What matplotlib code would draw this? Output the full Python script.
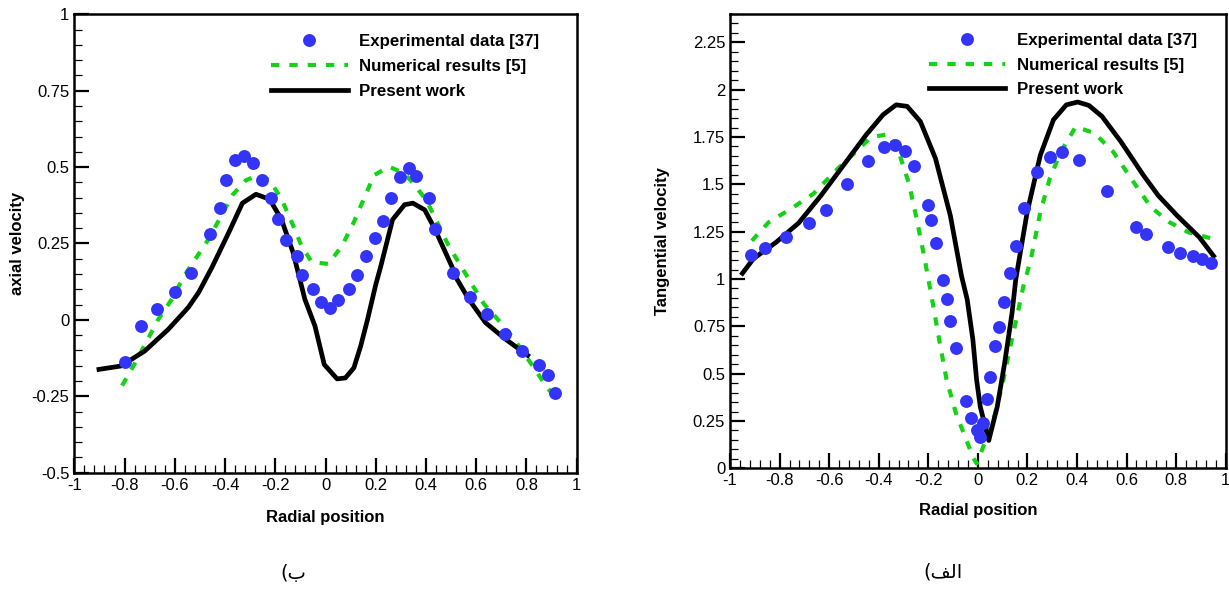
import matplotlib
matplotlib.use("Agg")
import matplotlib.pyplot as plt
from matplotlib.lines import Line2D
from matplotlib.ticker import MultipleLocator

plt.rcParams['font.family'] = ['Liberation Sans', 'DejaVu Sans']
plt.rcParams['axes.unicode_minus'] = False

# ---------------- data: left panel (axial velocity) ----------------
ax_exp_x = [-0.80, -0.734, -0.669, -0.60, -0.535, -0.46, -0.422, -0.395, -0.36, -0.324,
            -0.288, -0.254, -0.216, -0.19, -0.158, -0.112, -0.092, -0.048, -0.017, 0.019,
            0.048, 0.093, 0.126, 0.163, 0.196, 0.227, 0.261, 0.297, 0.332, 0.362,
            0.413, 0.435, 0.507, 0.577, 0.644, 0.715, 0.782, 0.852, 0.886, 0.915]
ax_exp_y = [-0.137, -0.02, 0.035, 0.09, 0.154, 0.28, 0.367, 0.457, 0.523, 0.537,
            0.512, 0.457, 0.40, 0.331, 0.262, 0.209, 0.147, 0.10, 0.059, 0.04,
            0.066, 0.10, 0.147, 0.209, 0.268, 0.322, 0.40, 0.468, 0.496, 0.47,
            0.40, 0.298, 0.154, 0.074, 0.019, -0.047, -0.102, -0.146, -0.181, -0.239]

ax_num_x = [-0.81, -0.754, -0.667, -0.606, -0.566, -0.465, -0.371, -0.317, -0.263, -0.223,
            -0.176, -0.129, -0.096, -0.055, 0.012, 0.066, 0.113, 0.153, 0.194, 0.254,
            0.315, 0.355, 0.402, 0.49, 0.59, 0.631, 0.691, 0.751, 0.825, 0.879, 0.93]
ax_num_y = [-0.215, -0.135, 0.0, 0.075, 0.14, 0.265, 0.408, 0.457, 0.474, 0.457,
            0.397, 0.309, 0.243, 0.189, 0.183, 0.243, 0.32, 0.397, 0.474, 0.501,
            0.479, 0.441, 0.391, 0.243, 0.107, 0.052, -0.003, -0.063, -0.151, -0.217, -0.27]

ax_pres_x = [-0.902, -0.815, -0.72, -0.626, -0.546, -0.505, -0.452, -0.384, -0.331, -0.277,
             -0.223, -0.176, -0.129, -0.082, -0.042, -0.005, 0.046, 0.079, 0.113, 0.14,
             0.167, 0.2, 0.22, 0.267, 0.315, 0.348, 0.395, 0.435, 0.503, 0.523,
             0.57, 0.637, 0.718, 0.805]
ax_pres_y = [-0.162, -0.151, -0.102, -0.031, 0.041, 0.09, 0.172, 0.288, 0.382, 0.411,
             0.395, 0.33, 0.22, 0.067, -0.02, -0.146, -0.193, -0.19, -0.157, -0.086,
             0.0, 0.115, 0.175, 0.328, 0.377, 0.382, 0.36, 0.298, 0.175, 0.134,
             0.068, -0.009, -0.064, -0.116]

# ---------------- data: right panel (tangential velocity) ----------------
tg_exp_x = [-0.915, -0.859, -0.773, -0.683, -0.613, -0.528, -0.444, -0.379, -0.336, -0.294,
            -0.259, -0.203, -0.19, -0.167, -0.14, -0.123, -0.112, -0.088, -0.046, -0.028,
            -0.005, 0.01, 0.02, 0.037, 0.051, 0.07, 0.085, 0.105, 0.128, 0.153,
            0.187, 0.24, 0.29, 0.338, 0.407, 0.522, 0.64, 0.678, 0.769, 0.817,
            0.867, 0.905, 0.942]
tg_exp_y = [1.126, 1.162, 1.22, 1.295, 1.365, 1.50, 1.626, 1.699, 1.707, 1.676,
            1.596, 1.392, 1.312, 1.19, 0.993, 0.896, 0.777, 0.635, 0.357, 0.268,
            0.20, 0.165, 0.239, 0.365, 0.484, 0.644, 0.745, 0.88, 1.03, 1.172,
            1.374, 1.564, 1.646, 1.669, 1.628, 1.463, 1.277, 1.238, 1.17, 1.14,
            1.119, 1.105, 1.087]

tg_num_x = [-0.912, -0.844, -0.754, -0.663, -0.572, -0.43, -0.36, -0.315, -0.278, -0.247,
            -0.217, -0.187, -0.156, -0.126, -0.088, -0.051, -0.02, -0.005, 0.015, 0.07,
            0.1, 0.131, 0.161, 0.184, 0.214, 0.252, 0.29, 0.335, 0.395, 0.471,
            0.546, 0.637, 0.698, 0.773, 0.849, 0.94]
tg_num_y = [1.202, 1.30, 1.371, 1.451, 1.574, 1.75, 1.765, 1.654, 1.504, 1.318,
            1.122, 0.91, 0.679, 0.467, 0.289, 0.165, 0.06, 0.025, 0.09, 0.289,
            0.449, 0.644, 0.821, 0.963, 1.105, 1.353, 1.53, 1.672, 1.805, 1.77,
            1.672, 1.495, 1.38, 1.30, 1.247, 1.215]

tg_pres_x = [-0.95, -0.905, -0.814, -0.723, -0.633, -0.542, -0.451, -0.383, -0.33, -0.285,
             -0.232, -0.171, -0.111, -0.066, -0.043, -0.02, -0.005, 0.01, 0.044, 0.078,
             0.108, 0.138, 0.153, 0.199, 0.252, 0.305, 0.357, 0.403, 0.448, 0.501,
             0.577, 0.668, 0.728, 0.804, 0.894, 0.951]
tg_pres_y = [1.03, 1.108, 1.194, 1.296, 1.441, 1.601, 1.761, 1.867, 1.92, 1.912,
             1.832, 1.637, 1.335, 1.016, 0.892, 0.679, 0.467, 0.324, 0.147, 0.324,
             0.555, 0.821, 0.998, 1.353, 1.654, 1.841, 1.92, 1.935, 1.917, 1.859,
             1.726, 1.548, 1.441, 1.335, 1.22, 1.122]

# ---------------- ticks / labels ----------------
x_ticks = [-1, -0.8, -0.6, -0.4, -0.2, 0, 0.2, 0.4, 0.6, 0.8, 1]
x_tick_labels = ['-1', '-0.8', '-0.6', '-0.4', '-0.2', '0', '0.2', '0.4', '0.6', '0.8', '1']
ax_y_ticks = [-0.5, -0.25, 0, 0.25, 0.5, 0.75, 1]
ax_y_tick_labels = ['-0.5', '-0.25', '0', '0.25', '0.5', '0.75', '1']
tg_y_ticks = [0, 0.25, 0.5, 0.75, 1, 1.25, 1.5, 1.75, 2, 2.25]
tg_y_tick_labels = ['0', '0.25', '0.5', '0.75', '1', '1.25', '1.5', '1.75', '2', '2.25']

series_labels = ['Experimental data [37]', 'Numerical results [5]', 'Present work']
x_label = 'Radial position'
ax_y_label = 'axial velocity'
tg_y_label = 'Tangential velocity'
caption_left = '(\u0628'                      # visual form of "ب)"
caption_right = '(\uFED2\uFEDF\uFE8D'         # visual form of "الف)"

BLUE = '#3434F8'
GREEN = '#14D214'
LW_NUM = 3.0
LW_PRES = 3.4
DASH = (2.0, 2.4)
MS = 9.3

fig = plt.figure(figsize=(12.29, 5.93), dpi=100)
axL = fig.add_axes([0.0605, 0.2029, 0.4087, 0.7730])
axR = fig.add_axes([0.5940, 0.2103, 0.4033, 0.7661])


def style(ax, xlim, ylim, yt, ytl, ylabel, ylab_x, xlab_y):
    ax.set_xlim(*xlim)
    ax.set_ylim(*ylim)
    ax.set_xticks(x_ticks, labels=x_tick_labels)
    ax.set_yticks(yt, labels=ytl)
    ax.xaxis.set_minor_locator(MultipleLocator(0.04))
    ax.yaxis.set_minor_locator(MultipleLocator(0.05))
    ax.tick_params(which='major', direction='in', length=11, width=1.6,
                   labelsize=12, pad=3.5, top=False, right=False)
    ax.tick_params(which='minor', direction='in', length=6, width=0.9,
                   top=False, right=False)
    for s in ax.spines.values():
        s.set_linewidth(1.8)
    ax.set_xlabel(x_label, fontsize=12, fontweight='bold')
    ax.set_ylabel(ylabel, fontsize=12, fontweight='bold')
    ax.yaxis.set_label_coords(ylab_x, 0.5)
    ax.xaxis.set_label_coords(0.5, xlab_y)


def draw(ax, ex, ey, nx, ny, px, py):
    ax.plot(nx, ny, color=GREEN, lw=LW_NUM, dashes=DASH, zorder=2)
    ax.plot(px, py, color='black', lw=LW_PRES, zorder=3, solid_joinstyle='round')
    ax.plot(ex, ey, 'o', color=BLUE, ms=MS, mec='none', zorder=4)


draw(axL, ax_exp_x, ax_exp_y, ax_num_x, ax_num_y, ax_pres_x, ax_pres_y)
draw(axR, tg_exp_x, tg_exp_y, tg_num_x, tg_num_y, tg_pres_x, tg_pres_y)

style(axL, (-1, 1), (-0.5, 1), ax_y_ticks, ax_y_tick_labels, ax_y_label, -0.098, -0.082)
style(axR, (-1, 1), (0, 2.4), tg_y_ticks, tg_y_tick_labels, tg_y_label, -0.121, -0.077)


def legend(ax, anchor, spacing):
    handles = [
        Line2D([], [], ls='none', marker='o', color=BLUE, ms=MS, mec='none'),
        Line2D([], [], color=GREEN, lw=LW_NUM, dashes=DASH),
        Line2D([], [], color='black', lw=LW_PRES),
    ]
    ax.legend(handles, series_labels, loc='upper left', bbox_to_anchor=anchor,
              frameon=False, borderpad=0, borderaxespad=0, handlelength=4.5,
              handletextpad=0.68, labelspacing=spacing,
              prop={'weight': 'bold', 'size': 12.2})


legend(axL, (0.392, 0.958), 0.6)
legend(axR, (0.401, 0.958), 0.57)

fig.text(293 / 1229, 1 - 574 / 593, caption_left, ha='center', va='center',
         fontsize=14, family=['DejaVu Sans'])
fig.text(943 / 1229, 1 - 572 / 593, caption_right, ha='center', va='center',
         fontsize=14, family=['DejaVu Sans'])

fig.savefig('out.png', dpi=100)
